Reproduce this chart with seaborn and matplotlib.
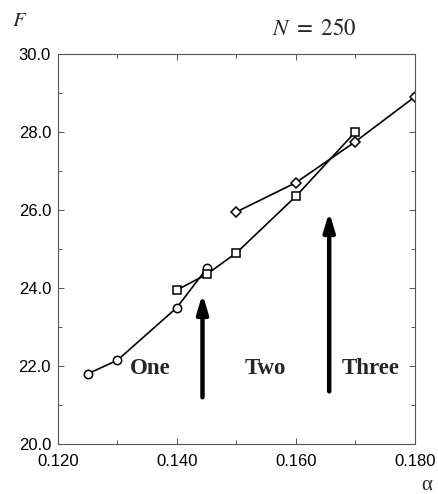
import matplotlib
matplotlib.use("Agg")
import matplotlib.pyplot as plt
import seaborn as sns
import pandas as pd
from matplotlib.ticker import MultipleLocator, FormatStrFormatter

sns.set_style("ticks")
plt.rcParams['font.family'] = ['Liberation Sans', 'DejaVu Sans']
plt.rcParams['mathtext.fontset'] = 'stix'

# Data
alpha_one = [0.125, 0.130, 0.140, 0.145]
F_one = [21.8, 22.15, 23.5, 24.5]
alpha_two = [0.140, 0.145, 0.150, 0.160, 0.170]
F_two = [23.95, 24.35, 24.9, 26.35, 28.0]
alpha_three = [0.150, 0.160, 0.170, 0.180]
F_three = [25.95, 26.7, 27.75, 28.9]

arrow_x = [0.1443, 0.1656]
arrow_start = [21.2, 21.35]
arrow_end = [23.85, 25.95]

region_labels = ["One", "Two", "Three"]
region_x = [0.1355, 0.1548, 0.1726]
region_y = [21.95, 21.95, 21.95]

fig = plt.figure(figsize=(4.39, 4.94), dpi=100)
ax = fig.add_axes([0.132, 0.101, 0.813, 0.790])

df1 = pd.DataFrame({"alpha": alpha_one, "F": F_one})
df2 = pd.DataFrame({"alpha": alpha_two, "F": F_two})
df3 = pd.DataFrame({"alpha": alpha_three, "F": F_three})

common = dict(color="black", linewidth=1.2, markerfacecolor="white",
              markeredgecolor="black", markeredgewidth=1.1, ax=ax,
              sort=False, estimator=None)
sns.lineplot(data=df1, x="alpha", y="F", marker="o", markersize=6, **common)
sns.lineplot(data=df2, x="alpha", y="F", marker="s", markersize=6, **common)
sns.lineplot(data=df3, x="alpha", y="F", marker="D", markersize=5, **common)

for x, y0, y1 in zip(arrow_x, arrow_start, arrow_end):
    ax.annotate("", xy=(x, y1), xytext=(x, y0),
                arrowprops=dict(arrowstyle="-|>,head_length=1.1,head_width=0.33",
                                color="black", lw=3.2, shrinkA=0, shrinkB=0))

for lab, x, y in zip(region_labels, region_x, region_y):
    ax.text(x, y, lab, ha="center", va="center", fontsize=16.5, fontweight="bold",
            family=["Liberation Serif", "DejaVu Serif"])

ax.set_xlim(0.120, 0.180)
ax.set_ylim(20.0, 30.0)
ax.xaxis.set_major_locator(MultipleLocator(0.02))
ax.xaxis.set_minor_locator(MultipleLocator(0.01))
ax.yaxis.set_major_locator(MultipleLocator(2.0))
ax.yaxis.set_minor_locator(MultipleLocator(1.0))
ax.xaxis.set_major_formatter(FormatStrFormatter("%.3f"))
ax.yaxis.set_major_formatter(FormatStrFormatter("%.1f"))
ax.tick_params(which="both", direction="in", top=True, right=True,
               colors="#555555", labelcolor="black", labelsize=12, width=0.7)
ax.tick_params(which="major", length=4, pad=5)
ax.tick_params(which="minor", length=3)
ax.tick_params(axis="x", pad=7)
for s in ax.spines.values():
    s.set_color("#555555")
    s.set_linewidth(0.8)
ax.set_xlabel("")
ax.set_ylabel("")

fig.text(0.027, 0.958, "$F$", fontsize=15, ha="left", va="center")
fig.text(0.716, 0.943, r"$N\ =\ 250$", fontsize=16.5, ha="center", va="center")
fig.text(0.973, 0.017, "α", fontsize=15, ha="center", va="center",
         family=["Liberation Serif", "DejaVu Serif"])

fig.savefig("out.png", dpi=100)
